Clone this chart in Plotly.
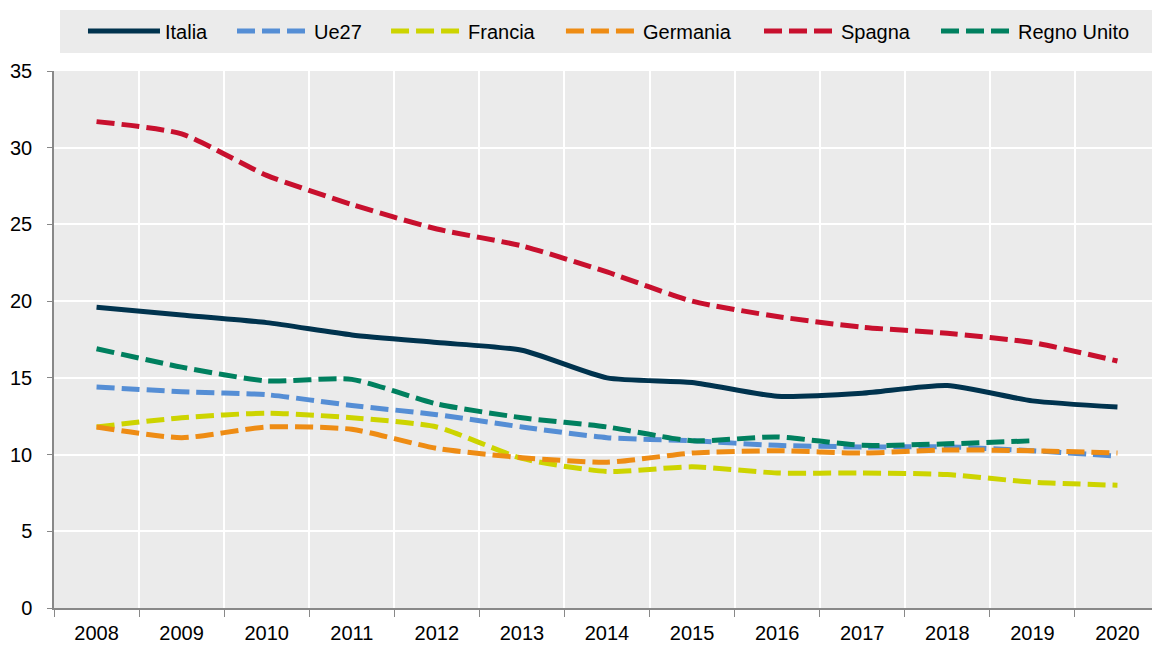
import plotly.graph_objects as go

anni = ["2008", "2009", "2010", "2011", "2012", "2013", "2014",
        "2015", "2016", "2017", "2018", "2019", "2020"]

italia = [19.6, 19.1, 18.6, 17.8, 17.3, 16.8, 15.0, 14.7, 13.8, 14.0, 14.5, 13.5, 13.1]
ue27 = [14.4, 14.1, 13.9, 13.2, 12.6, 11.8, 11.1, 10.9, 10.6, 10.5, 10.5, 10.25, 9.9]
francia = [11.8, 12.4, 12.7, 12.4, 11.8, 9.75, 8.9, 9.2, 8.8, 8.8, 8.7, 8.2, 8.0]
germania = [11.8, 11.1, 11.8, 11.65, 10.4, 9.8, 9.5, 10.1, 10.25, 10.1, 10.3, 10.25, 10.1]
spagna = [31.7, 30.9, 28.2, 26.3, 24.7, 23.6, 21.9, 20.0, 19.0, 18.3, 17.9, 17.3, 16.1]
regno_unito = [16.9, 15.7, 14.8, 14.9, 13.3, 12.4, 11.8, 10.9, 11.15, 10.6, 10.7, 10.9, None]

serie = [
    ("Italia", italia, "#00334e", "solid"),
    ("Ue27", ue27, "#558ed5", "18px,7px"),
    ("Francia", francia, "#cdd400", "18px,7px"),
    ("Germania", germania, "#ee8c14", "18px,7px"),
    ("Spagna", spagna, "#c8102e", "18px,7px"),
    ("Regno Unito", regno_unito, "#00805f", "18px,7px"),
]

# one legend per series so the entries can be spaced like the original
legend_x = [0.0264, 0.1621, 0.3024, 0.4617, 0.6421, 0.8033]

fig = go.Figure()
layout_legende = {}
for i, (nome, valori, colore, tratto) in enumerate(serie):
    chiave = "legend" if i == 0 else f"legend{i + 1}"
    fig.add_trace(go.Scatter(
        x=anni, y=valori, name=nome, mode="lines", legend=chiave,
        line=dict(color=colore, width=5, dash=tratto, shape="spline", smoothing=0.6),
    ))
    layout_legende[chiave] = dict(
        orientation="h", x=legend_x[i], xanchor="left", y=1.0745, yanchor="middle",
        bgcolor="rgba(0,0,0,0)", font=dict(size=20), itemwidth=72,
    )

# grey band behind the legend
fig.add_shape(type="rect", xref="paper", yref="paper",
              x0=0.0055, x1=1.0, y0=1.0335, y1=1.1136,
              fillcolor="#ebebeb", line_width=0, layer="below")

fig.update_layout(
    width=1152, height=645,
    margin=dict(l=54, r=0, t=71, b=37, autoexpand=False),
    paper_bgcolor="white",
    plot_bgcolor="#ebebeb",
    font=dict(family="Liberation Sans, Arial, sans-serif", size=20, color="#000000"),
    showlegend=True,
    xaxis=dict(
        type="category", range=[-0.5, 12.406], tickson="boundaries",
        showgrid=True, gridcolor="white", gridwidth=2,
        showline=True, linecolor="#888888", linewidth=1.5,
        ticks="outside", ticklen=7, tickcolor="#888888",
        ticklabelstandoff=6, automargin=False,
    ),
    yaxis=dict(
        range=[0, 35], dtick=5, tick0=0,
        showgrid=True, gridcolor="white", gridwidth=2, zeroline=False,
        showline=True, linecolor="#888888", linewidth=1.5,
        ticks="outside", ticklen=5, tickcolor="#888888",
        ticklabelstandoff=11, automargin=False,
    ),
    **layout_legende,
)

fig.write_html("out.html", config={"displayModeBar": False},
               post_script="document.body.style.margin='0px';")
